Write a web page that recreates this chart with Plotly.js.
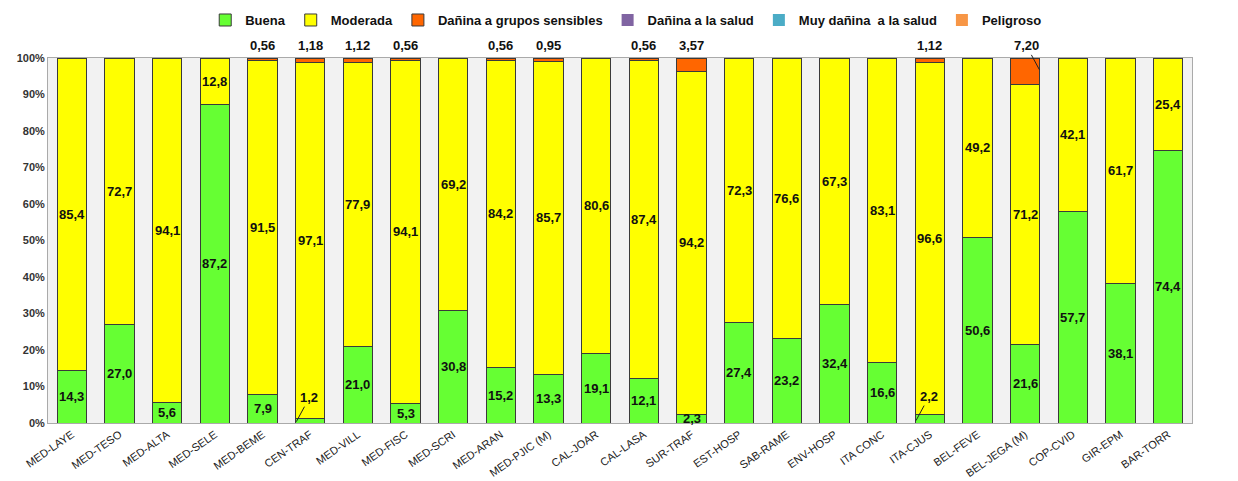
<!DOCTYPE html>
<html>
<head>
<meta charset="utf-8">
<script src="https://cdn.plot.ly/plotly-3.0.1.min.js"></script>
<style>html,body{margin:0;padding:0;background:#fff;}#chart{width:1238px;height:481px;}</style>
</head>
<body>
<div id="chart"></div>
<script>
const categories = ["MED-LAYE","MED-TESO","MED-ALTA","MED-SELE","MED-BEME","CEN-TRAF","MED-VILL","MED-FISC","MED-SCRI","MED-ARAN","MED-PJIC (M)","CAL-JOAR","CAL-LASA","SUR-TRAF","EST-HOSP","SAB-RAME","ENV-HOSP","ITA CONC","ITA-CJUS","BEL-FEVE","BEL-JEGA (M)","COP-CVID","GIR-EPM","BAR-TORR"];
const buena =    [14.3,27.0,5.6,87.2,7.9,1.2,21.0,5.3,30.8,15.2,13.3,19.1,12.1,2.3,27.4,23.2,32.4,16.6,2.2,50.6,21.6,57.7,38.1,74.4];
const moderada = [85.4,72.7,94.1,12.8,91.5,97.1,77.9,94.1,69.2,84.2,85.7,80.6,87.4,94.2,72.3,76.6,67.3,83.1,96.6,49.2,71.2,42.1,61.7,25.4];
const danGrupos = [0,0,0,0,0.56,1.18,1.12,0.56,0,0.56,0.95,0,0.56,3.57,0,0,0,0,1.12,0,7.20,0,0,0];
const danSalud = categories.map(() => 0);
const muyDanina = categories.map(() => 0);
const peligroso = categories.map(() => 0);
// small "Buena" values whose labels sit above the segment with a leader line
const calloutBuena = ["CEN-TRAF","ITA-CJUS"];

const fmt1 = v => v.toFixed(1).replace('.', ',');
const fmt2 = v => v.toFixed(2).replace('.', ',');
const FONT = "Liberation Sans, Arial, sans-serif";
const lineCol = '#3a3a3a';

function barTrace(name, y, color, withLine) {
  return {
    type: 'bar', name: name, x: categories, y: y,
    marker: {color: color, line: {color: lineCol, width: withLine ? 1 : 0}},
    textposition: 'none', hoverinfo: 'x+y+name'
  };
}

const data = [
  barTrace('Buena', buena, '#66FF33', true),
  barTrace('Moderada', moderada, '#FFFF00', true),
  barTrace('Dañina a grupos sensibles', danGrupos, '#FF6600', true),
  barTrace('Dañina a la salud', danSalud, '#8064A2', false),
  barTrace('Muy dañina  a la salud', muyDanina, '#4BACC6', false),
  barTrace('Peligroso', peligroso, '#F79646', false)
];

const labelFont = {family: FONT, size: 13, color: '#111', weight: 'bold'};
const annotations = [];
categories.forEach((c, i) => {
  const total = buena[i] + moderada[i] + danGrupos[i] + danSalud[i] + muyDanina[i] + peligroso[i];
  const k = 100 / total;
  const b = buena[i] * k, m = moderada[i] * k, d = danGrupos[i] * k;
  // Buena label
  if (calloutBuena.includes(c)) {
    annotations.push({x: i - 0.29, y: b * 0.3, xref: 'x', yref: 'y', text: fmt1(buena[i]),
      showarrow: true, arrowhead: 0, arrowwidth: 1, arrowcolor: '#222', ax: 13, ay: -24,
      standoff: 0, font: labelFont});
  } else {
    annotations.push({x: i, y: b / 2, xref: 'x', yref: 'y', text: fmt1(buena[i]),
      showarrow: false, font: labelFont});
  }
  // Moderada label
  annotations.push({x: i, y: b + m / 2, xref: 'x', yref: 'y', text: fmt1(moderada[i]),
    showarrow: false, font: labelFont});
  // Dañina a grupos sensibles label, above the bar
  if (danGrupos[i] > 0) {
    if (danGrupos[i] > 5) {
      annotations.push({x: i + 0.3, y: 100 - d * 0.45, xref: 'x', yref: 'y', text: fmt2(danGrupos[i]),
        showarrow: true, arrowhead: 0, arrowwidth: 1, arrowcolor: '#222', ax: -13, ay: -24,
        standoff: 0, font: labelFont});
    } else {
      annotations.push({x: i, y: 100, xref: 'x', yref: 'y', text: fmt2(danGrupos[i]),
        showarrow: false, yanchor: 'bottom', yshift: 3, font: labelFont});
    }
  }
});

const layout = {
  width: 1238, height: 481,
  margin: {l: 48, r: 46, t: 58, b: 58, autoexpand: false},
  paper_bgcolor: '#ffffff', plot_bgcolor: '#F2F2F2',
  barmode: 'stack', barnorm: 'percent', bargap: 0.39,
  font: {family: FONT, color: '#222'},
  showlegend: true,
  legend: {orientation: 'h', x: 0.505, xanchor: 'center', y: 1.104, yanchor: 'middle',
    font: {family: FONT, size: 13, color: '#111', weight: 'bold'},
    itemwidth: 30, traceorder: 'normal', bgcolor: 'rgba(0,0,0,0)'},
  xaxis: {type: 'category', tickangle: -35, tickfont: {family: FONT, size: 11, color: '#222'},
    showline: true, linecolor: '#aaa', linewidth: 1, mirror: true, ticks: '', showgrid: false,
    range: [-0.5, categories.length - 0.5]},
  yaxis: {range: [0, 100], dtick: 10, ticksuffix: '%', showgrid: false, zeroline: false,
    tickfont: {family: FONT, size: 11, color: '#333', weight: 'bold'},
    showline: true, linecolor: '#aaa', linewidth: 1, mirror: true, ticks: ''},
  annotations: annotations
};

Plotly.newPlot('chart', data, layout, {displayModeBar: false, responsive: false});
</script>
</body>
</html>
